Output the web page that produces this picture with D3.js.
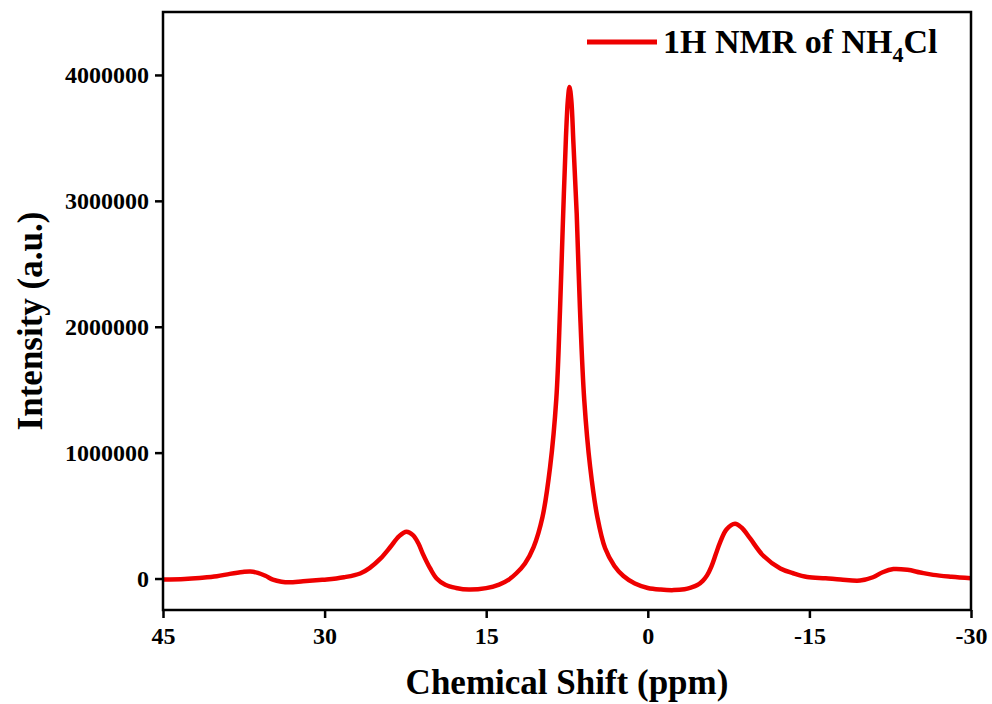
<!DOCTYPE html>
<meta charset="utf-8">
<head>
    <script src="https://d3js.org/d3.v7.min.js"></script>
    <style>

    body {
      margin: 0;
      background: white;
    }

    text {
      font-family: "Liberation Serif", "Times New Roman", serif;
      font-weight: bold;
      fill: #000;
    }

    </style>
</head>

<body>

    <svg id="svgid" width="992" height="704"></svg>

    <script>
        // spectrum (ppm, intensity)
        var shiftPpm = [45, 43, 41.6, 40, 38.8, 37.6, 36.9, 36.2, 35.5, 34.8, 34, 33.3, 32, 30.5, 29.8, 28.2, 26.7,
            25.8, 24.8, 23.9, 23.1, 22.4, 21.8, 21.3, 20.9, 20.2, 19.6, 18.8, 17.8, 16.6, 15, 13.8, 12.9, 12.2,
            11.4, 10.6, 9.78, 9.07, 8.49, 8.15, 7.9, 7.6, 7.42, 7.27, 7.1, 6.9, 6.6, 6.3, 5.9, 5.35, 4.68,
            3.96, 3.1, 2.26, 1.2, 0, -1.2, -2.4, -3.4, -4.0, -4.6, -5.1, -5.5, -5.9, -6.3, -6.7, -7.3, -8.1,
            -8.7, -9.5, -10.7, -12.3, -13.5, -14.8, -16.5, -17.9, -19.7, -20.9, -21.8, -22.8, -24.1, -25.3,
            -26.5, -28.2, -30];
        var intensity = [-8000, -3000, 5000, 18000, 37000, 52000, 56000, 45000, 22000, -8000, -25000, -30000,
            -22000, -12000, -8000, 10000, 40000, 85000, 160000, 250000, 335000, 372000, 345000, 280000, 200000,
            80000, 0, -50000, -75000, -88000, -76000, -48000, -8000, 42000, 120000, 250000, 487000, 885000,
            1430000, 2130000, 2780000, 3500000, 3800000, 3905000, 3800000, 3450000, 2900000, 2150000, 1420000,
            885000, 487000, 240000, 100000, 20000, -40000, -75000, -88000, -92000, -85000, -72000, -52000,
            -18000, 25000, 95000, 190000, 285000, 390000, 435000, 405000, 318000, 183000, 80000, 42000, 12000,
            2000, -8000, -16000, 10000, 50000, 75000, 69000, 48000, 29000, 14000, 2000];

        var xTicks = [45, 30, 15, 0, -15, -30];
        var yTicks = [0, 1000000, 2000000, 3000000, 4000000];
        var seriesName = "1H NMR of NH";

        var svg = d3.select("#svgid");

        var plotLeft = 163, plotRight = 971, plotTop = 12, plotBottom = 610;

        // ppm axis runs backwards, like every NMR plot
        var x = d3.scaleLinear().domain([45, -30]).range([plotLeft, plotRight]);
        var y = d3.scaleLinear().domain([-250000, 4500000]).range([plotBottom, plotTop]);

        var points = shiftPpm.map(function(p, i) { return [p, intensity[i]]; });

        // the spectrum
        var line = d3.line()
            .x(function(d) { return x(d[0]); })
            .y(function(d) { return y(d[1]); })
            .curve(d3.curveCatmullRom.alpha(0.5));

        svg.append("path")
            .datum(points)
            .attr("d", line)
            .style("fill", "none")
            .style("stroke", "#ee0000")
            .style("stroke-width", 4.5)
            .style("stroke-linejoin", "round");

        // frame
        svg.append("rect")
            .attr("x", plotLeft).attr("y", plotTop)
            .attr("width", plotRight - plotLeft).attr("height", plotBottom - plotTop)
            .style("fill", "none")
            .style("stroke", "#000")
            .style("stroke-width", 2.5);

        var plainNum = function(d) { return String(d); };  // hyphen minus, as in the original

        // bottom axis
        var xAxis = svg.append("g")
            .attr("transform", "translate(0," + plotBottom + ")")
            .call(d3.axisBottom(x).tickValues(xTicks).tickSize(8).tickPadding(9).tickFormat(plainNum));

        // left axis
        var yAxis = svg.append("g")
            .attr("transform", "translate(" + plotLeft + ",0)")
            .call(d3.axisLeft(y).tickValues(yTicks).tickSize(8).tickPadding(6).tickFormat(plainNum));

        [xAxis, yAxis].forEach(function(g) {
            g.select(".domain").remove();
            g.selectAll(".tick line").style("stroke", "#000").style("stroke-width", 2.5);
            g.selectAll(".tick text")
                .style("font-family", "'Liberation Serif', 'Times New Roman', serif")
                .style("font-weight", "bold")
                .style("font-size", "24px")
                .style("fill", "#000");
        });

        // axis titles
        svg.append("text")
            .attr("x", (plotLeft + plotRight) / 2)
            .attr("y", 694)
            .style("text-anchor", "middle")
            .style("font-size", "35px")
            .text("Chemical Shift (ppm)");

        svg.append("text")
            .attr("transform", "translate(42," + ((plotTop + plotBottom) / 2 + 10) + ") rotate(-90)")
            .style("text-anchor", "middle")
            .style("font-size", "35px")
            .text("Intensity (a.u.)");

        // legend
        svg.append("line")
            .attr("x1", 587).attr("x2", 657)
            .attr("y1", 42).attr("y2", 42)
            .style("stroke", "#ee0000")
            .style("stroke-width", 5);

        var legend = svg.append("text")
            .attr("x", 663)
            .attr("y", 53)
            .style("font-size", "34px");
        legend.append("tspan").text(seriesName);
        legend.append("tspan").attr("dy", 9).style("font-size", "22px").text("4");
        legend.append("tspan").attr("dy", -9).text("Cl");

    </script>
</body>
